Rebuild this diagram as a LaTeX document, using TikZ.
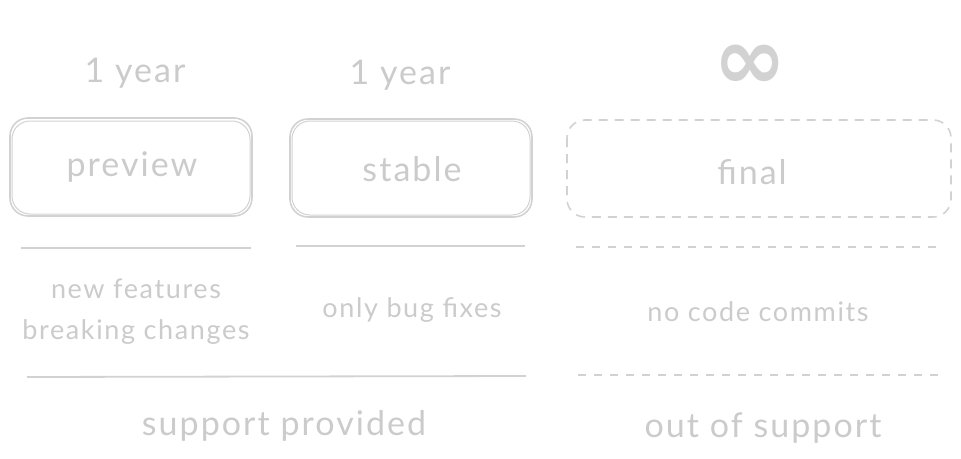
\documentclass[tikz,border=0pt]{standalone}
\usepackage{fontspec}
\setmainfont{Lato}
\newfontfamily\symfont{DejaVu Sans}
\newfontfamily\wide[LetterSpace=6]{Lato}
\definecolor{sk}{HTML}{D2D2D2}
\definecolor{tx}{HTML}{CBCBCB}
\begin{document}
\begin{tikzpicture}[x=1pt,y=-1pt,
  lbl/.style={text=tx,inner sep=0pt,font=\wide\fontsize{34}{38}\selectfont},
  sml/.style={text=tx,inner sep=0pt,font=\wide\fontsize{27}{30}\selectfont},
  sketch/.style={draw=sk,line width=1.6pt,rounded corners=18pt},
  rule/.style={draw=sk,line width=1.8pt},
  druler/.style={draw=sk,line width=1.4pt,dash pattern=on 8pt off 8pt}]
\useasboundingbox (0,0) rectangle (961,458);
% top labels
\node[lbl] (y1) at (135,73) {1 year};
\node[lbl] (y2) at (400,75) {1 year};
\node[text=sk,inner sep=0pt,font=\symfont\bfseries\fontsize{88}{90}\selectfont] (inf) at (750,67) {∞};
% boxes
\draw[sketch] (10,118) rectangle (252,216);
\draw[sketch,line width=1pt] (12,121) rectangle (250,214);
\node[lbl] (pv) at (132,167) {preview};
\draw[sketch] (290,119) rectangle (532,217);
\draw[sketch,line width=1pt] (292,121) rectangle (530,215);
\node[lbl] (st) at (412,169) {stable};
\draw[sketch,dash pattern=on 9pt off 7pt] (567,120) rectangle (951,217);
\node[lbl] (fi) at (752,172) {final};
% rules under boxes
\draw[rule] (21,248) -- (251,248);
\draw[rule] (296,246) -- (525,246);
\draw[druler] (576,247) -- (943,247);
% descriptions
\node[sml] (nf) at (136,289) {new features};
\node[sml] (bc) at (136,332) {breaking changes};
\node[sml] (bf) at (412,310) {only bug fixes};
\node[sml] (nc) at (758,312) {no code commits};
% bottom rules
\draw[rule] (27,377) -- (526,376);
\draw[druler] (578,375) -- (944,375);
% bottom labels
\node[lbl] (sp) at (284,426) {support provided};
\node[lbl] (os) at (763,428) {out of support};
\end{tikzpicture}
\end{document}
